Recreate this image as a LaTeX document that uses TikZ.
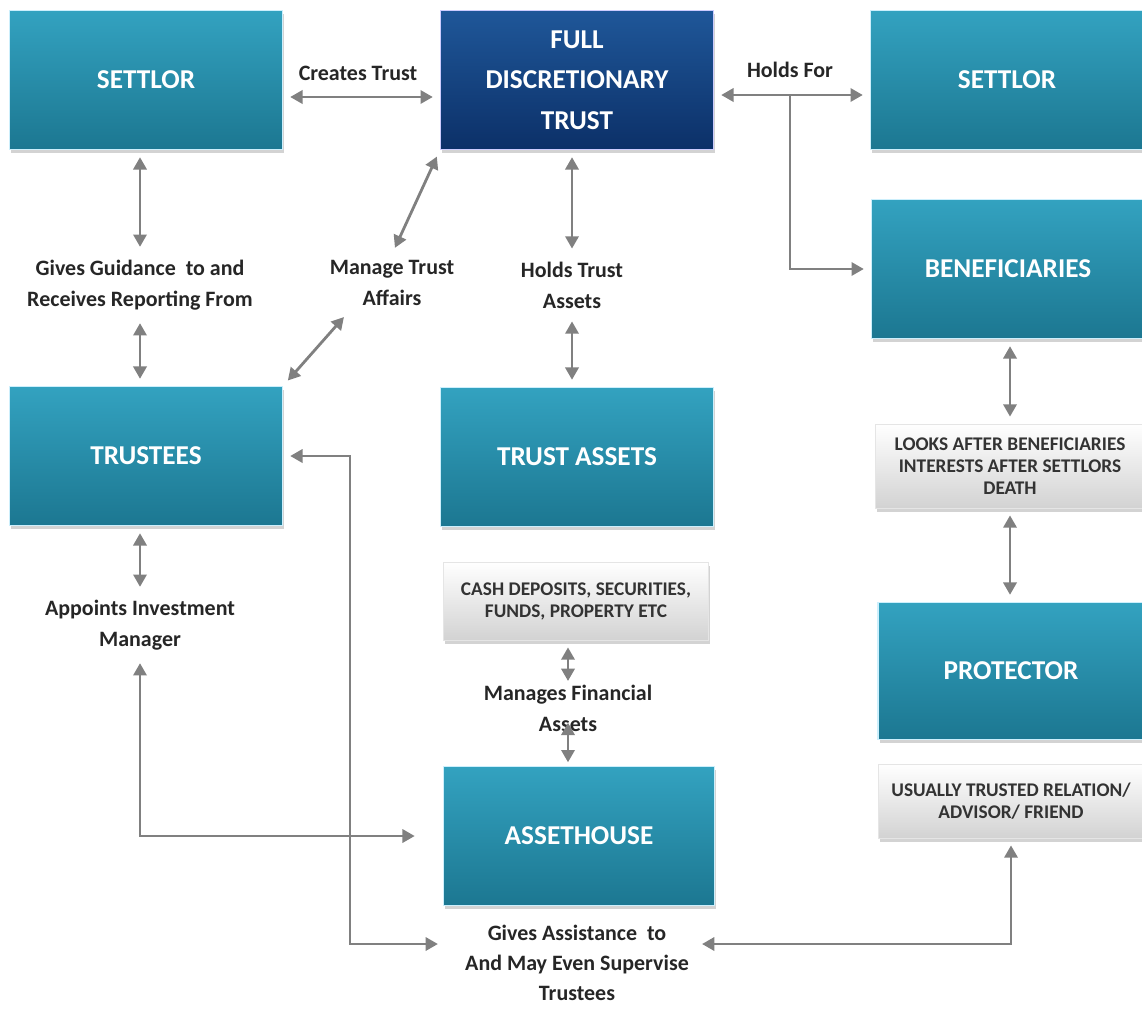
\documentclass[tikz,border=0pt]{standalone}
\usepackage{fontspec}
\setmainfont{Carlito}
\usetikzlibrary{arrows.meta,shadows,positioning}

\definecolor{tealtop}{HTML}{33A2C0}
\definecolor{tealbot}{HTML}{1C7791}
\definecolor{navytop}{HTML}{1F5799}
\definecolor{navybot}{HTML}{0C3068}
\definecolor{linkgray}{HTML}{808080}
\definecolor{notegray}{HTML}{333333}

\tikzset{
    bigbox/.style={rectangle, minimum width=5.46cm, minimum height=2.78cm,
        top color=tealtop, bottom color=tealbot, draw=cyan!20, line width=0.8pt,
        drop shadow={shadow xshift=1pt, shadow yshift=-2pt, opacity=0.35},
        text=white, align=center, font=\fontsize{15.5}{23}\selectfont\bfseries},
    trustbox/.style={bigbox, top color=navytop, bottom color=navybot, draw=blue!20},
    notebox/.style={rectangle, top color=white, bottom color=gray!35, draw=gray!20,
        drop shadow={shadow xshift=1pt, shadow yshift=-2pt, opacity=0.35},
        text=notegray, align=center, font=\fontsize{11}{12.5}\selectfont\bfseries},
    linklabel/.style={align=center, text=black!85, font=\fontsize{12.5}{17.5}\selectfont\bfseries},
    link/.style={draw=linkgray, line width=1.6pt,
        {Triangle[length=7pt,width=7.5pt]}-{Triangle[length=7pt,width=7.5pt]},
        shorten <=4pt, shorten >=4pt},
    onelink/.style={link, -{Triangle[length=7pt,width=7.5pt]}, shorten <=0pt}
}

\begin{document}
\begin{tikzpicture}[x=0.02cm, y=-0.02cm]
    \clip (0,0) rectangle (1142,1008);

    % boxes
    \node[bigbox] (settlor) at (146,80) {SETTLOR};
    \node[trustbox] (fdt) at (577,80) {FULL\\DISCRETIONARY\\TRUST};
    \node[bigbox] (settlorR) at (1007,80) {SETTLOR};
    \node[bigbox] (benef) at (1008,269) {BENEFICIARIES};
    \node[bigbox] (trustees) at (146,456) {TRUSTEES};
    \node[bigbox] (assets) at (577,457) {TRUST ASSETS};
    \node[bigbox, minimum width=5.42cm] (assethouse) at (579,836) {ASSETHOUSE};
    \node[bigbox, minimum width=5.32cm, minimum height=2.74cm] (protector) at (1011,671) {PROTECTOR};

    % notes
    \node[notebox, minimum width=5.3cm, minimum height=1.56cm] (cash) at (576,601)
        {CASH DEPOSITS, SECURITIES,\\FUNDS, PROPERTY ETC};
    \node[notebox, minimum width=5.4cm, minimum height=1.68cm] (looks) at (1010,466)
        {LOOKS AFTER BENEFICIARIES\\INTERESTS AFTER SETTLORS\\DEATH};
    \node[notebox, minimum width=5.32cm, minimum height=1.48cm] (usually) at (1011,801)
        {USUALLY TRUSTED RELATION/\\ADVISOR/ FRIEND};

    % labels
    \node[linklabel] (lcreates) at (358,73) {Creates Trust};
    \node[linklabel] (lholds) at (790,70) {Holds For};
    \node[linklabel] (lguide) at (140,285) {Gives Guidance~ to and\\Receives Reporting From};
    \node[linklabel] (lmanage) at (392,283) {Manage Trust\\Affairs};
    \node[linklabel] (lholdsassets) at (572,285) {Holds Trust\\Assets};
    \node[linklabel] (lappoints) at (140,625) {Appoints Investment\\Manager};
    \node[linklabel, inner sep=0pt] (lmanagesfin) at (568,708) {Manages Financial\\Assets};
    \node[linklabel, font=\fontsize{12.5}{17}\selectfont\bfseries] (lassist) at (577,963)
        {Gives Assistance~ to\\And May Even Supervise\\Trustees};

    \coordinate (split) at (790,95);
    \coordinate (bendT) at (350,944);

    % connectors
    \draw[link] ([yshift=-0.34cm]settlor.east) -- ([yshift=-0.34cm]fdt.west);
    \draw[link] ([yshift=-0.3cm]fdt.east) -- ([yshift=-0.3cm]settlorR.west);
    \draw[onelink] (split) |- (benef.west);
    \draw[link] (settlor.south -| lguide.north) -- (lguide.north);
    \draw[link] (lguide.south) -- (lguide.south |- trustees.north);
    \draw[link] (lmanage.north) -- (fdt.south west);
    \draw[link] ([xshift=0.5cm]lmanage.south west) -- (trustees.north east);
    \draw[link] (lholdsassets.north |- fdt.south) -- (lholdsassets.north);
    \draw[link] (lholdsassets.south) -- (lholdsassets.south |- assets.north);
    \draw[link] (benef.south -| looks.north) -- (looks.north);
    \draw[link] (looks.south) -- (looks.south |- protector.north);
    \draw[link] (trustees.south -| lappoints.north) -- (lappoints.north);
    \draw[link, shorten >=16pt] (lappoints.south) |- (assethouse.west);
    \draw[link, shorten >=2pt] (cash.south -| lmanagesfin.north) -- (lmanagesfin.north);
    \draw[link, shorten <=-5pt, shorten >=2pt] (lmanagesfin.south) -- (lmanagesfin.south |- assethouse.north);
    \draw[link, shorten >=12pt] (trustees.east) -| (bendT) -- (bendT -| lassist.west);
    \draw[link] (usually.south) |- (bendT -| lassist.east);
\end{tikzpicture}
\end{document}
